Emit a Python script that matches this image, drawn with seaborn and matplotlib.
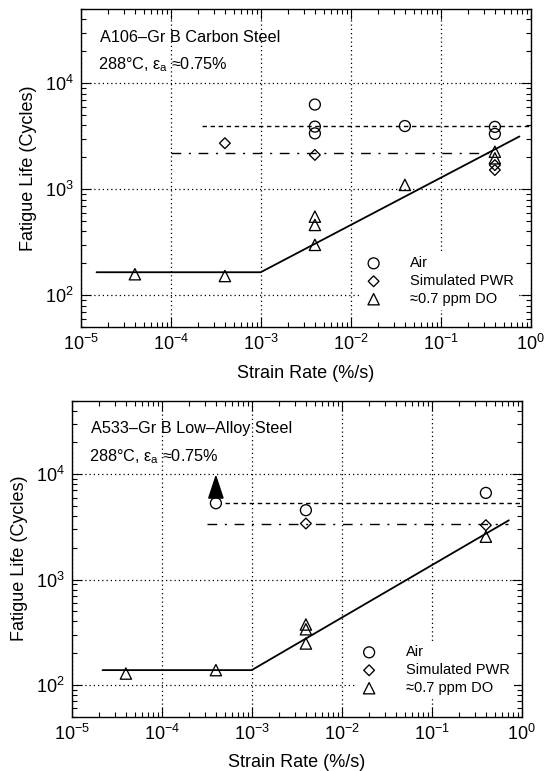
import matplotlib
matplotlib.use("Agg")
import matplotlib.pyplot as plt
import matplotlib.ticker as mticker
import numpy as np
import pandas as pd
import seaborn as sns

# ---------------- data ----------------
env_labels = ["Air", "Simulated PWR", "\u22480.7 ppm DO"]

# A106-Gr B carbon steel
a106_air_rate = [0.004, 0.004, 0.004, 0.04, 0.4, 0.4]
a106_air_life = [6300, 3900, 3370, 3950, 3880, 3330]
a106_pwr_rate = [4e-4, 0.004, 0.4, 0.4]
a106_pwr_life = [2720, 2110, 1690, 1520]
a106_do_rate = [4e-5, 4e-4, 0.004, 0.004, 0.004, 0.04, 0.4, 0.4]
a106_do_life = [158, 152, 552, 461, 299, 1100, 2260, 1960]

a106_do_fit_rate = [1.5e-5, 1e-3, 0.75]
a106_do_fit_life = [165, 165, 3150]
a106_air_mean_rate = [2.2e-4, 1.0]
a106_air_mean_life = [3950, 3950]
a106_pwr_mean_rate = [1e-4, 0.4]
a106_pwr_mean_life = [2200, 2200]

# A533-Gr B low-alloy steel
a533_air_rate = [4e-4, 0.004, 0.4]
a533_air_life = [5300, 4550, 6640]
a533_pwr_rate = [0.004, 0.4]
a533_pwr_life = [3400, 3280]
a533_do_rate = [4e-5, 4e-4, 0.004, 0.004, 0.004, 0.4]
a533_do_life = [128, 138, 374, 337, 247, 2550]

a533_do_fit_rate = [2.2e-5, 1e-3, 0.72]
a533_do_fit_life = [138, 138, 3650]
a533_air_mean_rate = [5e-4, 1.0]
a533_air_mean_life = [5300, 5300]
a533_pwr_mean_rate = [3.2e-4, 0.7]
a533_pwr_mean_life = [3330, 3330]

# run-out test (did not fail): arrow from the result up to 1e4 cycles
a533_runout_rate = 4e-4
a533_runout_life = 5300
a533_runout_tip = 1e4

# ---------------- style ----------------
sns.set_theme(style="ticks")
plt.rcParams["font.family"] = ["Liberation Sans", "DejaVu Sans"]
plt.rcParams["mathtext.fontset"] = "custom"
plt.rcParams["mathtext.rm"] = "Liberation Sans"
plt.rcParams["mathtext.it"] = "Liberation Sans:italic"
plt.rcParams["mathtext.bf"] = "Liberation Sans:bold"
plt.rcParams["axes.edgecolor"] = "black"
plt.rcParams["axes.linewidth"] = 1.0

marker_spec = {
    env_labels[0]: ("o", 62),
    env_labels[1]: ("D", 30),
    env_labels[2]: ("^", 66),
}


def make_frame(rates, lives):
    rows = []
    for env, r, l in zip(env_labels, rates, lives):
        rows.append(pd.DataFrame({"rate": r, "life": l, "env": env}))
    return pd.concat(rows, ignore_index=True)


def draw_panel(ax, df, fit, air_mean, pwr_mean, title, legend_anchor):
    ax.set_xscale("log")
    ax.set_yscale("log")
    ax.set_xlim(1e-5, 1.0)
    ax.set_ylim(50, 5e4)

    ax.grid(True, which="major", color="black", linestyle=(0, (1, 2.4)),
            linewidth=0.9)
    ax.set_axisbelow(True)

    # trend lines
    sns.lineplot(x=fit[0], y=fit[1], ax=ax, color="black", linewidth=1.3,
                 sort=False, estimator=None, zorder=2)
    sns.lineplot(x=air_mean[0], y=air_mean[1], ax=ax, color="black",
                 linewidth=1.0, linestyle=(0, (3.2, 2.6)), sort=False,
                 estimator=None, zorder=2)
    sns.lineplot(x=pwr_mean[0], y=pwr_mean[1], ax=ax, color="black",
                 linewidth=1.0, linestyle=(0, (7, 5.5, 1.5, 5.5)), sort=False,
                 estimator=None, zorder=2)

    # test results
    for env in env_labels:
        mk, s = marker_spec[env]
        sub = df[df["env"] == env]
        sns.scatterplot(data=sub, x="rate", y="life", marker=mk, s=s,
                        facecolor="none", edgecolor="black", linewidth=0.95,
                        label=env, ax=ax, zorder=4)

    # ticks
    ax.xaxis.set_major_locator(mticker.LogLocator(base=10, numticks=10))
    ax.xaxis.set_minor_locator(mticker.LogLocator(base=10, subs=np.arange(2, 10), numticks=20))
    ax.yaxis.set_major_locator(mticker.FixedLocator([1e2, 1e3, 1e4]))
    ax.yaxis.set_minor_locator(mticker.LogLocator(base=10, subs=np.arange(2, 10), numticks=20))
    ax.xaxis.set_major_formatter(mticker.LogFormatterSciNotation())
    ax.yaxis.set_major_formatter(mticker.LogFormatterSciNotation())
    ax.yaxis.set_minor_formatter(mticker.NullFormatter())
    ax.xaxis.set_minor_formatter(mticker.NullFormatter())
    ax.tick_params(which="both", direction="in", top=True, right=True,
                   color="black", width=0.8, labelsize=13, pad=5,
                   labelcolor="black")
    ax.tick_params(which="major", length=7)
    ax.tick_params(which="minor", length=3.5)

    ax.set_xlabel("Strain Rate (%/s)", fontsize=13, color="black")
    ax.set_ylabel("Fatigue Life (Cycles)", fontsize=13, color="black")
    ax.xaxis.label.set_va("center")
    ax.yaxis.label.set_va("center")
    ax.xaxis.set_label_coords(0.5, -0.144)
    ax.yaxis.set_label_coords(-0.117, 0.5)

    ax.text(0.043, 0.911, title, transform=ax.transAxes, fontsize=11.7,
            ha="left", va="center", color="black")
    ax.text(0.039, 0.824, "288\u00b0C, \u03b5$_\\mathrm{a}$ \u22480.75%",
            transform=ax.transAxes, fontsize=11.7, ha="left", va="center",
            color="black")

    leg = ax.legend(loc="center left", bbox_to_anchor=legend_anchor,
                    frameon=True, fontsize=10.5, handlelength=1.0,
                    handletextpad=2.0, labelspacing=0.27, borderpad=0.3,
                    borderaxespad=0, scatterpoints=1)
    leg.get_frame().set_facecolor("white")
    leg.get_frame().set_edgecolor("none")
    leg.get_frame().set_alpha(1.0)
    for t in leg.get_texts():
        t.set_color("black")


fig = plt.figure(figsize=(5.55, 7.71), dpi=100)
ax1 = fig.add_axes([0.1454, 0.5756, 0.8108, 0.4125])
ax2 = fig.add_axes([0.1292, 0.0706, 0.8108, 0.4099])

df_a106 = make_frame([a106_air_rate, a106_pwr_rate, a106_do_rate],
                     [a106_air_life, a106_pwr_life, a106_do_life])
df_a533 = make_frame([a533_air_rate, a533_pwr_rate, a533_do_rate],
                     [a533_air_life, a533_pwr_life, a533_do_life])

draw_panel(ax1, df_a106,
           (a106_do_fit_rate, a106_do_fit_life),
           (a106_air_mean_rate, a106_air_mean_life),
           (a106_pwr_mean_rate, a106_pwr_mean_life),
           "A106\u2013Gr B Carbon Steel", (0.625, 0.145))
draw_panel(ax2, df_a533,
           (a533_do_fit_rate, a533_do_fit_life),
           (a533_air_mean_rate, a533_air_mean_life),
           (a533_pwr_mean_rate, a533_pwr_mean_life),
           "A533\u2013Gr B Low\u2013Alloy Steel", (0.635, 0.147))

ax2.annotate("", xy=(a533_runout_rate, a533_runout_tip),
             xytext=(a533_runout_rate, a533_runout_life),
             arrowprops=dict(arrowstyle="-|>,head_length=1.0,head_width=0.33",
                             color="black", lw=1.3, mutation_scale=15,
                             shrinkA=4.5, shrinkB=0), zorder=5)

fig.savefig("out.png", dpi=100, facecolor="white")
